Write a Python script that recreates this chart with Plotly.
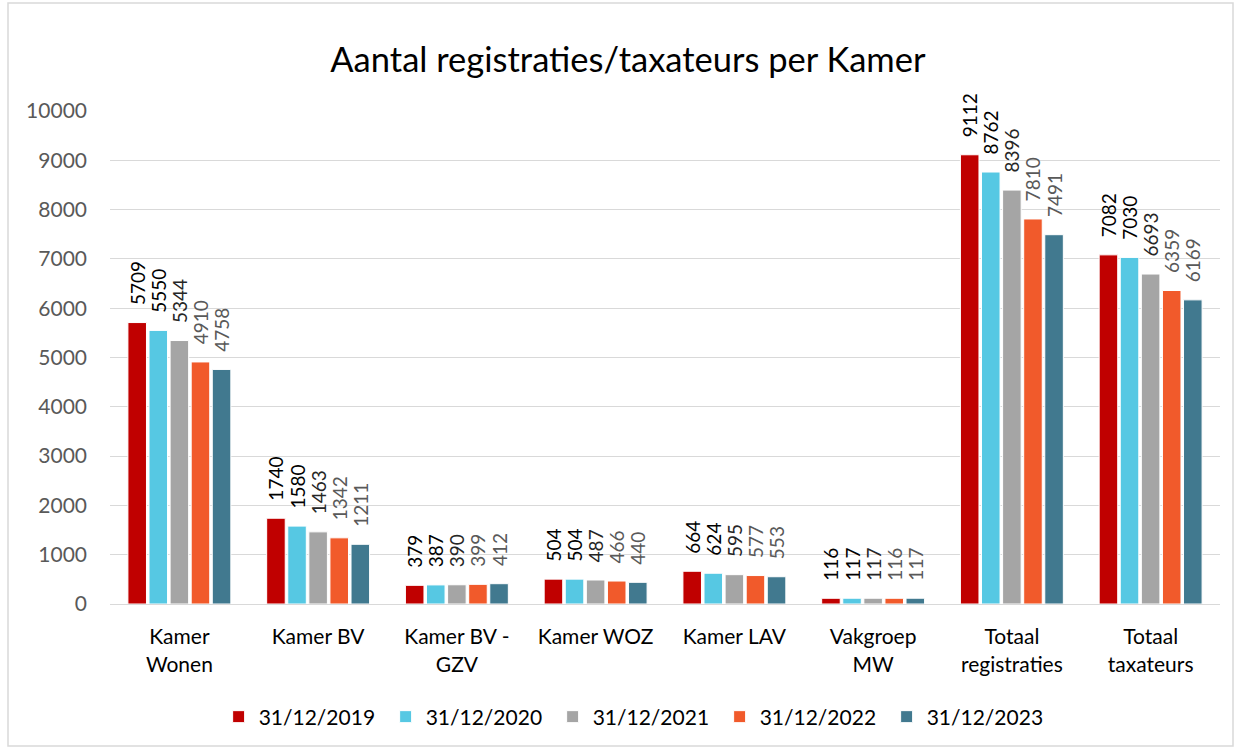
import plotly.graph_objects as go

categories = ["Kamer<br>Wonen", "Kamer BV", "Kamer BV -<br>GZV", "Kamer WOZ", "Kamer LAV",
              "Vakgroep<br>MW", "Totaal<br>registraties", "Totaal<br>taxateurs"]
series_names = ["31/12/2019", "31/12/2020", "31/12/2021", "31/12/2022", "31/12/2023"]
v2019 = [5709, 1740, 379, 504, 664, 116, 9112, 7082]
v2020 = [5550, 1580, 387, 504, 624, 117, 8762, 7030]
v2021 = [5344, 1463, 390, 487, 595, 117, 8396, 6693]
v2022 = [4910, 1342, 399, 466, 577, 116, 7810, 6359]
v2023 = [4758, 1211, 412, 440, 553, 117, 7491, 6169]
yticks = [0, 1000, 2000, 3000, 4000, 5000, 6000, 7000, 8000, 9000, 10000]

colors = ["#C00000", "#56C8E3", "#A5A5A5", "#F15A2B", "#41798F"]
label_colors = ["#000000", "#000000", "#262626", "#595959", "#595959"]
FONT = "Lato"
PAD = "\u00a0\u00a0\u00a0"

fig = go.Figure()
for name, vals, c, lc in zip(series_names, [v2019, v2020, v2021, v2022, v2023], colors, label_colors):
    fig.add_trace(go.Bar(
        name=name, x=categories, y=vals,
        marker=dict(color=c, line=dict(color="white", width=1)),
        text=[PAD + str(v) for v in vals], textposition="outside", textangle=-90,
        textfont=dict(family=FONT, size=19, color=lc),
        constraintext="none", cliponaxis=False,
    ))

L, R, T, B = 110, 16, 111, 145
W, H = 1236, 749
pw, ph = W - L - R, H - T - B

def px_x(x):
    return (x - L) / pw

def px_y(y):
    return (H - B - y) / ph

fig.update_layout(
    width=W, height=H,
    margin=dict(l=L, r=R, t=T, b=B),
    paper_bgcolor="white", plot_bgcolor="white",
    barmode="group", bargap=0.24, bargroupgap=0.12,
    title=dict(text="Aantal registraties/taxateurs per Kamer", x=0.508, xanchor="center",
               y=1 - 60 / H, yanchor="middle",
               font=dict(family=FONT, size=34.5, color="#000000")),
    font=dict(family=FONT),
    legend=dict(orientation="h", x=0.474, xanchor="center", y=1 - 717 / H, yref="container",
                yanchor="middle", font=dict(family=FONT, size=21, color="#000000"),
                traceorder="normal", itemwidth=30, entrywidth=122, entrywidthmode="pixels"),
    xaxis=dict(showgrid=False, showline=True, linecolor="#D9D9D9", linewidth=1,
               ticks="", tickfont=dict(family=FONT, size=21, color="#000000"),
               ticklabelstandoff=14),
    yaxis=dict(range=[0, 10000], tickvals=yticks, tickformat="d", showgrid=True,
               gridcolor="#D9D9D9", gridwidth=1, zeroline=False, showline=False, ticks="",
               tickfont=dict(family=FONT, size=21, color="#595959"), ticklabelstandoff=22),
    shapes=[dict(type="rect", xref="paper", yref="paper",
                 x0=px_x(8), x1=px_x(1233), y0=px_y(746), y1=px_y(3),
                 line=dict(color="#D9D9D9", width=1.5), fillcolor="rgba(0,0,0,0)", layer="below")],
)

fig.write_html("out.html", config={"displayModeBar": False},
               post_script="document.body.style.margin='0';")
